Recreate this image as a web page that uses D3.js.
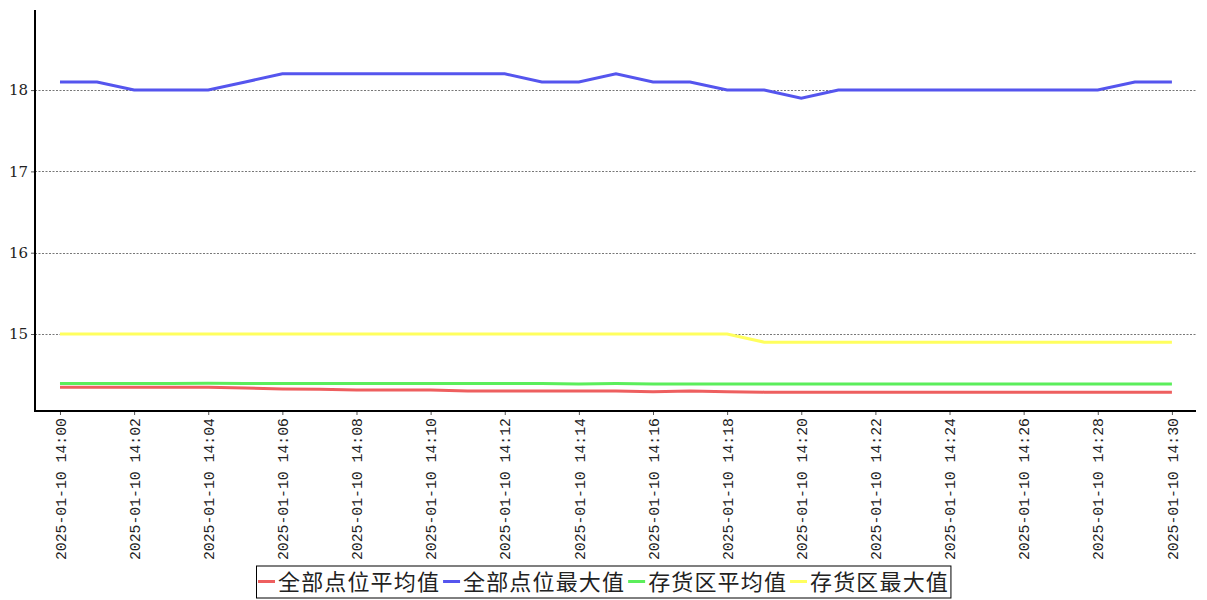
<!DOCTYPE html>
<html><head><meta charset="utf-8">
<script src="https://cdn.jsdelivr.net/npm/d3@7"></script>
<style>body{margin:0;background:#fff;}svg{display:block;}</style>
</head><body>
<svg id="c" width="1207" height="600"></svg>
<script>
const times = ["14:00","14:01","14:02","14:03","14:04","14:05","14:06","14:07","14:08","14:09","14:10","14:11","14:12","14:13","14:14","14:15","14:16","14:17","14:18","14:19","14:20","14:21","14:22","14:23","14:24","14:25","14:26","14:27","14:28","14:29","14:30"];
const datePrefix = "2025-01-10";
const seriesNames = ["全部点位平均值","全部点位最大值","存货区平均值","存货区最大值"];
const seriesColors = ["#ee5f5f","#5555ee","#5bee5b","#ffff5e"];
const avgAll = [14.345,14.345,14.345,14.345,14.345,14.335,14.325,14.32,14.31,14.31,14.31,14.30,14.30,14.30,14.30,14.30,14.29,14.30,14.29,14.285,14.285,14.285,14.285,14.285,14.285,14.285,14.285,14.285,14.285,14.285,14.285];
const maxAll = [18.1,18.1,18.0,18.0,18.0,18.1,18.2,18.2,18.2,18.2,18.2,18.2,18.2,18.1,18.1,18.2,18.1,18.1,18.0,18.0,17.9,18.0,18.0,18.0,18.0,18.0,18.0,18.0,18.0,18.1,18.1];
const avgStore = [14.39,14.39,14.39,14.39,14.395,14.39,14.39,14.39,14.39,14.39,14.39,14.39,14.39,14.39,14.385,14.39,14.385,14.385,14.385,14.385,14.385,14.385,14.385,14.385,14.385,14.385,14.385,14.385,14.385,14.385,14.385];
const maxStore = [15.0,15.0,15.0,15.0,15.0,15.0,15.0,15.0,15.0,15.0,15.0,15.0,15.0,15.0,15.0,15.0,15.0,15.0,15.0,14.9,14.9,14.9,14.9,14.9,14.9,14.9,14.9,14.9,14.9,14.9,14.9];
const yTicks = [15,16,17,18];
const xTickLabels = ["14:00","14:02","14:04","14:06","14:08","14:10","14:12","14:14","14:16","14:18","14:20","14:22","14:24","14:26","14:28","14:30"];

const parse = d3.timeParse("%Y-%m-%d %H:%M");
const dates = times.map(t => parse(datePrefix + " " + t));
const allSeries = [avgAll, maxAll, avgStore, maxStore];

const svg = d3.select("#c");
const pLeft = 35, pRight = 1196, pTop = 10, pBottom = 411;
const minute = 60000;
const x = d3.scaleTime()
  .domain([new Date(+dates[0] - 0.674*minute), new Date(+dates[dates.length-1] + 0.65*minute)])
  .range([pLeft, pRight]);
const y = d3.scaleLinear().domain([14.053, 18.985]).range([pBottom, pTop]);

// grid
svg.append("g").selectAll("line").data(yTicks).join("line")
  .attr("x1", pLeft).attr("x2", pRight)
  .attr("y1", d => Math.round(y(d)) + 0.5).attr("y2", d => Math.round(y(d)) + 0.5)
  .attr("stroke", "#777").attr("stroke-width", 1).attr("stroke-dasharray", "2,1.5");

// y axis
const yAxis = svg.append("g").attr("transform", `translate(${pLeft},0)`)
  .call(d3.axisLeft(y).tickValues(yTicks).tickSize(4).tickFormat(d3.format("d")));
yAxis.select(".domain").remove();
yAxis.selectAll(".tick line").attr("stroke", "#555");
yAxis.selectAll("text").attr("font-family", "'DejaVu Serif', serif").attr("font-size", 15).attr("fill", "#222").attr("x", -7);
svg.append("line").attr("x1", pLeft).attr("x2", pLeft).attr("y1", pTop).attr("y2", pBottom + 1)
  .attr("stroke", "#000").attr("stroke-width", 2);

// x axis
const xAxis = svg.append("g").attr("transform", `translate(0,${pBottom})`)
  .call(d3.axisBottom(x).tickValues(xTickLabels.map(t => parse(datePrefix + " " + t))).tickSize(4)
    .tickFormat(d3.timeFormat("%Y-%m-%d %H:%M")));
xAxis.select(".domain").remove();
xAxis.selectAll(".tick line").attr("stroke", "#555");
xAxis.selectAll("text")
  .attr("font-family", "'Liberation Mono', monospace").attr("font-size", 14.8).attr("fill", "#222")
  .attr("transform", "rotate(-90)").attr("text-anchor", "end").attr("x", -7).attr("y", 0).attr("dy", "0.35em");
svg.append("line").attr("x1", pLeft - 1).attr("x2", pRight).attr("y1", pBottom).attr("y2", pBottom)
  .attr("stroke", "#000").attr("stroke-width", 2);

// lines
const line = d3.line().x((d, i) => x(dates[i])).y(d => y(d));
svg.append("g").selectAll("path").data(allSeries).join("path")
  .attr("d", d => line(d)).attr("fill", "none")
  .attr("stroke", (d, i) => seriesColors[i]).attr("stroke-width", 3)
  .attr("stroke-linejoin", "miter");

// legend
const lg = svg.append("g");
const box = lg.append("rect").attr("y", 566).attr("height", 32).attr("fill", "#fff").attr("stroke", "#000").attr("stroke-width", 1);
let cx = 258;
seriesNames.forEach((name, i) => {
  lg.append("line").attr("x1", cx).attr("x2", cx + 17).attr("y1", 581.5).attr("y2", 581.5)
    .attr("stroke", seriesColors[i]).attr("stroke-width", 3);
  const t = lg.append("text").attr("x", cx + 20).attr("y", 590)
    .attr("font-family", "'Noto Sans CJK SC', sans-serif").attr("font-size", 22).attr("letter-spacing", 1.15)
    .attr("fill", "#222").text(name);
  const w = t.node().getComputedTextLength();
  cx = cx + 20 + w + 3;
});
box.attr("x", 256.5).attr("width", cx - 256.5 - 1);
</script>
</body></html>
